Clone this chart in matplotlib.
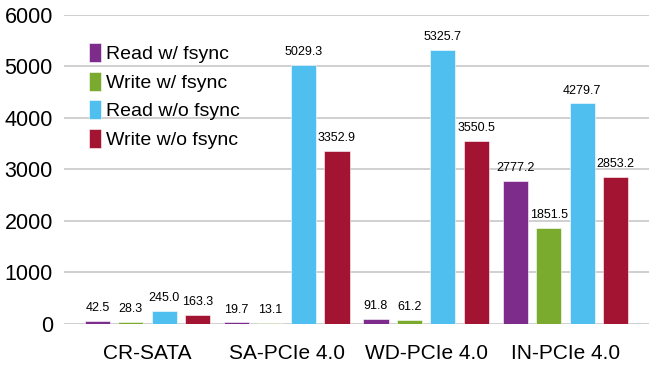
import matplotlib
matplotlib.use('Agg')
import matplotlib.pyplot as plt
import numpy as np

plt.rcParams['font.family'] = ['Liberation Sans', 'DejaVu Sans']

# DATA
devices = ['CR-SATA', 'SA-PCIe 4.0', 'WD-PCIe 4.0', 'IN-PCIe 4.0']
read_fsync = [42.5, 19.7, 91.8, 2777.2]
write_fsync = [28.3, 13.1, 61.2, 1851.5]
read_nofsync = [245.0, 5029.3, 5325.7, 4279.7]
write_nofsync = [163.3, 3352.9, 3550.5, 2853.2]

series = [
    ('Read w/ fsync', read_fsync, '#7D2C8C'),
    ('Write w/ fsync', write_fsync, '#7AAB2F'),
    ('Read w/o fsync', read_nofsync, '#4EBFEE'),
    ('Write w/o fsync', write_nofsync, '#A21431'),
]

fig = plt.figure(figsize=(6.49, 3.81), dpi=100)
ax = fig.add_axes([64/649, 57.5/381, 585/649, 308.5/381])

x = np.arange(len(devices))
width = 0.18
step = 0.24
offsets = [-1.5*step, -0.5*step, 0.5*step, 1.5*step]

for (name, vals, col), off in zip(series, offsets):
    bars = ax.bar(x + off, vals, width, color=col, label=name,
                  edgecolor='white', linewidth=0.4, zorder=3)
    for b, v in zip(bars, vals):
        ax.annotate('%.1f' % v, (b.get_x() + b.get_width()/2, v),
                    xytext=(0, 5), textcoords='offset points',
                    ha='center', va='bottom', fontsize=9, color='black',
                    annotation_clip=False)

ax.set_xlim(-0.6, 3.6)
ax.set_ylim(0, 6000)
ax.set_yticks(range(0, 6001, 1000))
ax.set_xticks(x)
ax.set_xticklabels(devices, fontsize=15)
ax.tick_params(axis='y', labelsize=15.5, length=0, pad=8)
ax.tick_params(axis='x', length=0, pad=15)
ax.grid(axis='y', color='#c8c8c8', linewidth=1.2, zorder=0)
ax.set_axisbelow(True)
for s in ax.spines.values():
    s.set_visible(False)

ax.legend(loc='upper left', bbox_to_anchor=(0.042, 0.909), frameon=False,
          fontsize=14, handlelength=0.62, handleheight=1.13,
          labelspacing=0.43, handletextpad=0.3, borderpad=0, borderaxespad=0)

plt.savefig('out.png', dpi=100)
